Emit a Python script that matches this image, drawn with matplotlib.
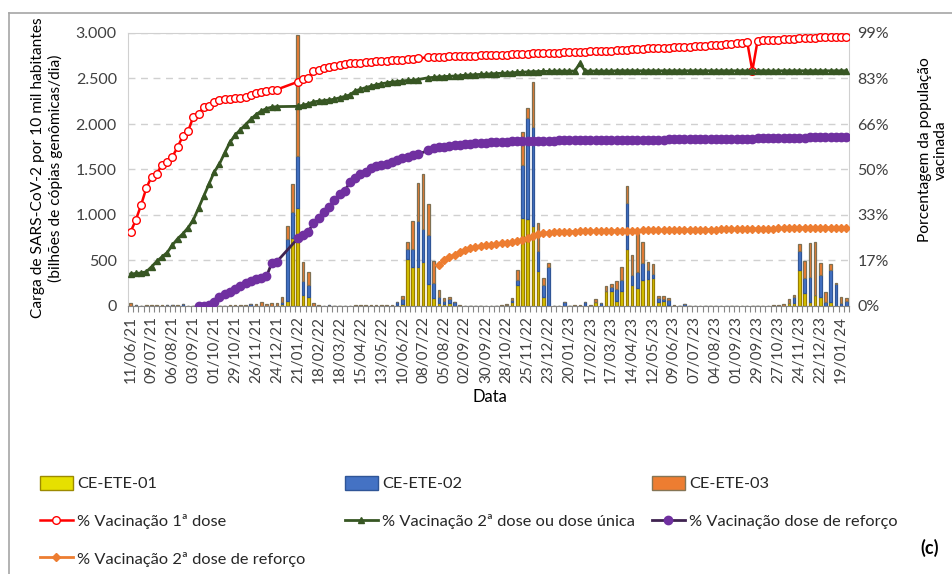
# weekly SARS-CoV-2 load (stacked bars) + vaccination coverage (lines)
import numpy as np
import pandas as pd
import matplotlib
matplotlib.use('agg')
import matplotlib.pyplot as plt
from matplotlib.lines import Line2D
from matplotlib.patches import Patch

plt.rcParams['font.family'] = ['Lato', 'DejaVu Sans']

# ---- data --------------------------------------------------------------
weeks = pd.date_range('2021-06-11', periods=138, freq='7D')

# bars: billions of genomic copies / day per 10k inhabitants
ete01 = [0, 0, 0, 0, 0, 0, 0, 0, 0, 0,
         0, 0, 0, 0, 0, 0, 0, 0, 0, 0,
         0, 0, 0, 0, 0, 0, 0, 0, 5, 20,
         50, 745, 1080, 120, 100, 0, 0, 0, 0, 0,
         0, 0, 0, 0, 0, 0, 0, 0, 0, 0,
         0, 10, 20, 513, 425, 425, 483, 242, 91, 36,
         20, 36, 0, 0, 0, 0, 0, 0, 0, 0,
         0, 0, 5, 40, 231, 963, 953, 883, 385, 102,
         0, 0, 0, 0, 0, 0, 0, 0, 0, 40,
         0, 168, 168, 60, 165, 623, 231, 194, 286, 293,
         304, 40, 50, 10, 0, 0, 0, 0, 0, 0,
         0, 0, 0, 0, 0, 0, 0, 0, 0, 0,
         0, 0, 0, 0, 0, 0, 30, 30, 396, 139,
         48, 121, 95, 0, 48, 0, 0, 0]
ete02 = [0, 15, 0, 0, 0, 0, 0, 8, 8, 0,
         20, 0, 0, 0, 0, 0, 0, 0, 0, 0,
         0, 0, 0, 25, 0, 0, 0, 0, 0, 20,
         690, 290, 570, 155, 130, 0, 0, 0, 8, 0,
         0, 0, 0, 0, 0, 0, 0, 0, 0, 0,
         0, 30, 60, 113, 201, 512, 363, 542, 165, 66,
         30, 37, 48, 0, 0, 0, 0, 0, 0, 0,
         0, 0, 10, 30, 55, 587, 1110, 1088, 219, 125,
         432, 0, 0, 48, 0, 0, 0, 40, 0, 0,
         37, 0, 37, 130, 121, 506, 110, 183, 183, 103,
         48, 44, 30, 60, 0, 0, 25, 0, 0, 0,
         5, 0, 0, 0, 0, 0, 0, 0, 0, 0,
         0, 0, 0, 0, 0, 0, 0, 65, 212, 165,
         267, 0, 246, 48, 348, 240, 30, 55]
ete03 = [35, 0, 0, 8, 8, 8, 8, 0, 0, 10,
         0, 5, 0, 0, 0, 0, 0, 0, 5, 10,
         10, 10, 15, 0, 25, 40, 20, 35, 30, 60,
         140, 305, 1330, 210, 147, 30, 12, 0, 0, 0,
         5, 5, 0, 8, 8, 8, 8, 10, 8, 12,
         15, 0, 30, 81, 312, 418, 604, 334, 239, 74,
         34, 29, 0, 15, 5, 0, 5, 0, 0, 0,
         0, 10, 5, 14, 109, 366, 109, 494, 305, 77,
         37, 0, 0, 0, 0, 10, 10, 0, 10, 33,
         0, 55, 37, 85, 146, 190, 219, 411, 238, 91,
         106, 26, 33, 14, 15, 0, 0, 0, 0, 5,
         0, 0, 0, 0, 0, 0, 0, 0, 0, 0,
         0, 0, 0, 8, 10, 22, 47, 26, 70, 191,
         381, 586, 128, 109, 62, 16, 72, 29]

# lines: % of vaccinated population (None = no data that week)
dose1 = [26.9, 31.2, 36.6, 42.7, 46.9, 47.9, 51.3, 52.3, 54.1, 57.7,
         61.6, 63.4, 68.6, 69.8, 72.0, 72.7, 74.1, 74.7, 74.9, 75.2,
         75.3, 75.5, 75.9, 76.5, 77.1, 77.7, 78.0, 78.5, 78.5, None,
         None, None, 81.3, 82.2, 82.5, 85.1, 85.5, 86.2, 86.8, 87.1,
         87.4, 87.7, 88.0, 88.2, 88.3, 88.5, 88.6, 88.7, 88.8, 88.9,
         89.1, 89.2, 89.3, 89.4, 89.5, 89.8, None, 90.2, 90.2, 90.3,
         90.4, 90.5, 90.5, 90.6, 90.7, 90.7, 90.8, 90.9, 90.9, 91.0,
         91.1, 91.2, 91.2, 91.3, 91.4, 91.4, 91.5, 91.6, 91.6, 91.7,
         91.8, 91.8, 91.9, 92.0, 92.1, 92.1, 92.2, 92.2, 92.3, 92.3,
         92.4, 92.5, 92.6, 92.7, 92.8, 93.0, 93.1, 93.2, 93.3, 93.4,
         93.5, 93.6, 93.6, 93.7, 93.8, 93.9, 94.0, 94.1, 94.2, 94.3,
         94.4, 94.5, 94.6, 94.8, 94.9, 95.1, 95.2, 95.5, 95.9, 85.3,
         96.2, 96.3, 96.4, 96.5, 96.6, 96.7, 96.8, 96.9, 97.1, 97.2,
         97.3, 97.3, 97.4, 97.4, 97.4, 97.4, 97.4, 97.4]
dose2 = [11.6, 11.8, 12.0, 12.4, 14.2, 16.2, 17.8, 19.4, 22.1, 24.4,
         26.2, 28.4, 31.2, 35.5, 39.9, 44.2, 48.6, 51.5, 55.5, 59.3,
         62.0, 63.9, 65.8, 67.7, 69.4, 70.7, 71.6, 72.1, 72.3, None,
         None, None, 72.4, 72.8, 73.3, 74.0, 74.3, 74.5, 74.7, 75.0,
         75.5, 76.0, 76.6, 78.0, 78.6, 79.2, 79.7, 80.2, 80.6, 80.9,
         81.2, 81.4, 81.6, 81.8, 81.9, 82.1, None, 82.8, 82.9, 83.1,
         83.2, 83.3, 83.4, 83.5, 83.7, 83.8, 83.9, 84.0, 84.1, 84.2,
         84.3, 84.4, 84.5, 84.6, 84.7, 84.8, 84.9, 85.0, 85.0, 85.1,
         85.1, 85.2, 85.2, 85.2, 85.2, 85.2, 88.0, 85.2, 85.2, 85.2,
         85.2, 85.2, 85.2, 85.3, 85.3, 85.3, 85.3, 85.3, 85.3, 85.3,
         85.3, 85.3, 85.3, 85.3, 85.3, 85.3, 85.3, 85.3, 85.3, 85.3,
         85.3, 85.3, 85.3, 85.3, 85.3, 85.3, 85.3, 85.3, 85.3, 85.3,
         85.3, 85.3, 85.3, 85.2, 85.3, 85.3, 85.3, 85.3, 85.3, 85.3,
         85.3, 85.3, 85.3, 85.3, 85.3, 85.3, 85.3, 85.3]
booster = [None, None, None, None, None, None, None, None, None, None,
           None, None, None, 0.0, 0.1, 0.4, 1.6, 3.1, 4.3, 4.9,
           6.1, 7.3, 8.3, 9.2, 9.7, 10.1, 10.7, 15.5, 16.1, None,
           None, None, 24.5, 25.7, 27.0, 30.0, 31.8, 34.2, 36.0, 38.4,
           40.5, 41.8, 45.0, 46.5, 47.7, 48.5, 49.9, 50.7, 51.2, 51.6,
           52.2, 52.9, 53.7, 54.1, 54.6, 55.0, None, 56.5, 57.2, 57.5,
           57.8, 58.1, 58.3, 58.5, 58.7, 58.8, 59.0, 59.1, 59.2, 59.4,
           59.5, 59.6, 59.6, 59.7, 59.7, 59.8, 59.8, 59.9, 59.9, 60.0,
           60.0, 60.0, 60.1, 60.1, 60.2, 60.2, 60.2, 60.2, 60.2, 60.2,
           60.2, 60.2, 60.2, 60.2, 60.2, 60.3, 60.3, 60.3, 60.3, 60.3,
           60.3, 60.3, 60.3, 60.4, 60.4, 60.4, 60.4, 60.4, 60.4, 60.4,
           60.5, 60.5, 60.5, 60.6, 60.6, 60.6, 60.6, 60.7, 60.7, 60.7,
           60.8, 60.8, 60.8, 60.9, 60.9, 61.0, 61.0, 61.0, 61.1, 61.1,
           61.2, 61.2, 61.3, 61.3, 61.3, 61.4, 61.4, 61.4]
booster2 = [None] * 59 + [
    14.9,
    16.5, 17.8, 18.6, 19.5, 20.3, 21.1, 21.5, 21.8, 22.0, 22.2,
    22.4, 22.7, 22.9, 23.1, 23.6, 24.1, 24.8, 25.5, 26.1, 26.4,
    26.6, 26.8, 26.9, 27.0, 27.0, 27.0, 27.1, 27.1, 27.1, 27.2,
    27.2, 27.2, 27.2, 27.3, 27.3, 27.3, 27.3, 27.3, 27.4, 27.4,
    27.4, 27.4, 27.5, 27.5, 27.5, 27.5, 27.6, 27.6, 27.6, 27.6,
    27.7, 27.7, 27.7, 27.8, 27.8, 27.8, 27.9, 27.9, 28.0, 28.0,
    28.0, 28.1, 28.1, 28.1, 28.2, 28.2, 28.2, 28.3, 28.3, 28.3,
    28.3, 28.3, 28.4, 28.4, 28.4, 28.4, 28.4, 28.4]

left_ticks = [0, 500, 1000, 1500, 2000, 2500, 3000]
left_labels = ['0', '500', '1.000', '1.500', '2.000', '2.500', '3.000']
right_ticks = [0, 16.5, 33, 49.5, 66, 82.5, 99]
right_labels = ['0%', '17%', '33%', '50%', '66%', '83%', '99%']

# ---- figure ------------------------------------------------------------
W, H = 952, 574
fig = plt.figure(figsize=(W / 100, H / 100), dpi=100)
ax = fig.add_axes([128 / W, 1 - 306 / H, (849 - 128) / W, (306 - 33) / H])

x = np.arange(len(weeks))
y1 = np.array(ete01, dtype=float)
y2 = np.array(ete02, dtype=float)
y3 = np.array(ete03, dtype=float)
bw = 0.5
ax.bar(x, y1, width=bw, color='#D8C400', edgecolor='#9A7E00', lw=0.9, zorder=2)
ax.bar(x, y2, bottom=y1, width=bw, color='#4472C4', edgecolor='#2F5597', lw=0.9, zorder=2)
ax.bar(x, y3, bottom=y1 + y2, width=bw, color='#ED7D31', edgecolor='#7F7052', lw=0.9, zorder=2)

ax.set_xlim(-0.5, len(x) - 0.5)
ax.set_ylim(0, 3000)
ax.set_yticks(left_ticks)
ax.set_yticklabels(left_labels)
ax.yaxis.grid(True, ls=(0, (5, 4)), color='#D0D0D0', lw=1)
ax.set_axisbelow(True)

ax.set_xticks(x[::4])
ax.set_xticklabels([d.strftime('%d/%m/%y') for d in weeks[::4]], rotation=90)
ax.set_xticks(np.arange(-0.5, len(x), 1), minor=True)
ax.tick_params(axis='x', which='major', length=0, pad=7, labelsize=11, colors='#404040')
ax.tick_params(axis='x', which='minor', length=4, color='#868686', width=0.8)
ax.tick_params(axis='y', length=0, pad=8, labelsize=11.5, colors='#404040')
for s in ['left', 'top', 'right']:
    ax.spines[s].set_color('#D0D0D0')
ax.spines['bottom'].set_color('#868686')

# secondary axis with vaccination lines
ax2 = ax.twinx()
ax2.set_ylim(0, 99)
ax2.set_yticks(right_ticks)
ax2.set_yticklabels(right_labels)
ax2.tick_params(axis='y', length=0, pad=6, labelsize=11.5, colors='#404040')
for s in ax2.spines.values():
    s.set_visible(False)


def draw(vals, **kw):
    arr = np.array(vals, dtype=float)
    ok = ~np.isnan(arr)
    return ax2.plot(x[ok], arr[ok], **kw)[0]


l_red = draw(dose1, color='#FF0000', lw=1.8, marker='o', ms=5.5, mfc='white',
             mec='#FF0000', mew=1.0)
l_grn = draw(dose2, color='#375623', lw=2, marker='^', ms=5, mec='#375623')
l_pur = draw(booster, color='#3F2350', lw=2, marker='o', ms=6, mfc='#7030A0',
             mec='#7030A0')
l_orn = draw(booster2, color='#ED7D31', lw=2, marker='D', ms=4.2, mec='#ED7D31')

# axis titles
fig.text(47 / W, 1 - 168 / H,
         'Carga de SARS-CoV-2 por 10 mil habitantes\n(bilhões de cópias genômicas/dia)',
         rotation=90, ha='center', va='center', fontsize=11.2, linespacing=1.2)
fig.text(933 / W, 1 - 150 / H, 'Porcentagem da população\nvacinada',
         rotation=90, ha='center', va='center', fontsize=11.2, linespacing=1.2)
fig.text(490 / W, 1 - 397 / H, 'Data', ha='center', va='center', fontsize=12)
fig.text(930 / W, 1 - 548 / H, '(c)', ha='center', va='center', fontsize=13,
         fontweight='bold')

# legend, three columns laid out row by row
h_y = Patch(facecolor='#E6E000', edgecolor='#9C8A00')
h_b = Patch(facecolor='#4472C4', edgecolor='#2F5597')
h_o = Patch(facecolor='#ED7D31', edgecolor='#857555')
cols = [
    (40, [h_y, l_red, l_orn], ['CE-ETE-01', '% Vacinação 1ª dose',
                               '% Vacinação 2ª dose de reforço']),
    (345, [h_b, l_grn], ['CE-ETE-02', '% Vacinação 2ª dose ou dose única']),
    (652, [h_o, l_pur], ['CE-ETE-03', '% Vacinação dose de reforço']),
]
for xpos, hs, labs in cols:
    fig.legend(hs, labs, loc='upper left', bbox_to_anchor=(xpos / W, 1 - 476 / H),
               frameon=False, borderpad=0, borderaxespad=0, handlelength=2.0,
               handleheight=0.9, handletextpad=0.25, labelspacing=1.35,
               fontsize=11.8, labelcolor='#262626')

# outer frame (top and left edges visible)
fig.add_artist(Line2D([9 / W, 1], [1 - 13 / H] * 2, color='#A6A6A6', lw=1.2))
fig.add_artist(Line2D([9 / W] * 2, [0, 1 - 13 / H], color='#A6A6A6', lw=1.2))

plt.savefig('out.png', dpi=100)
